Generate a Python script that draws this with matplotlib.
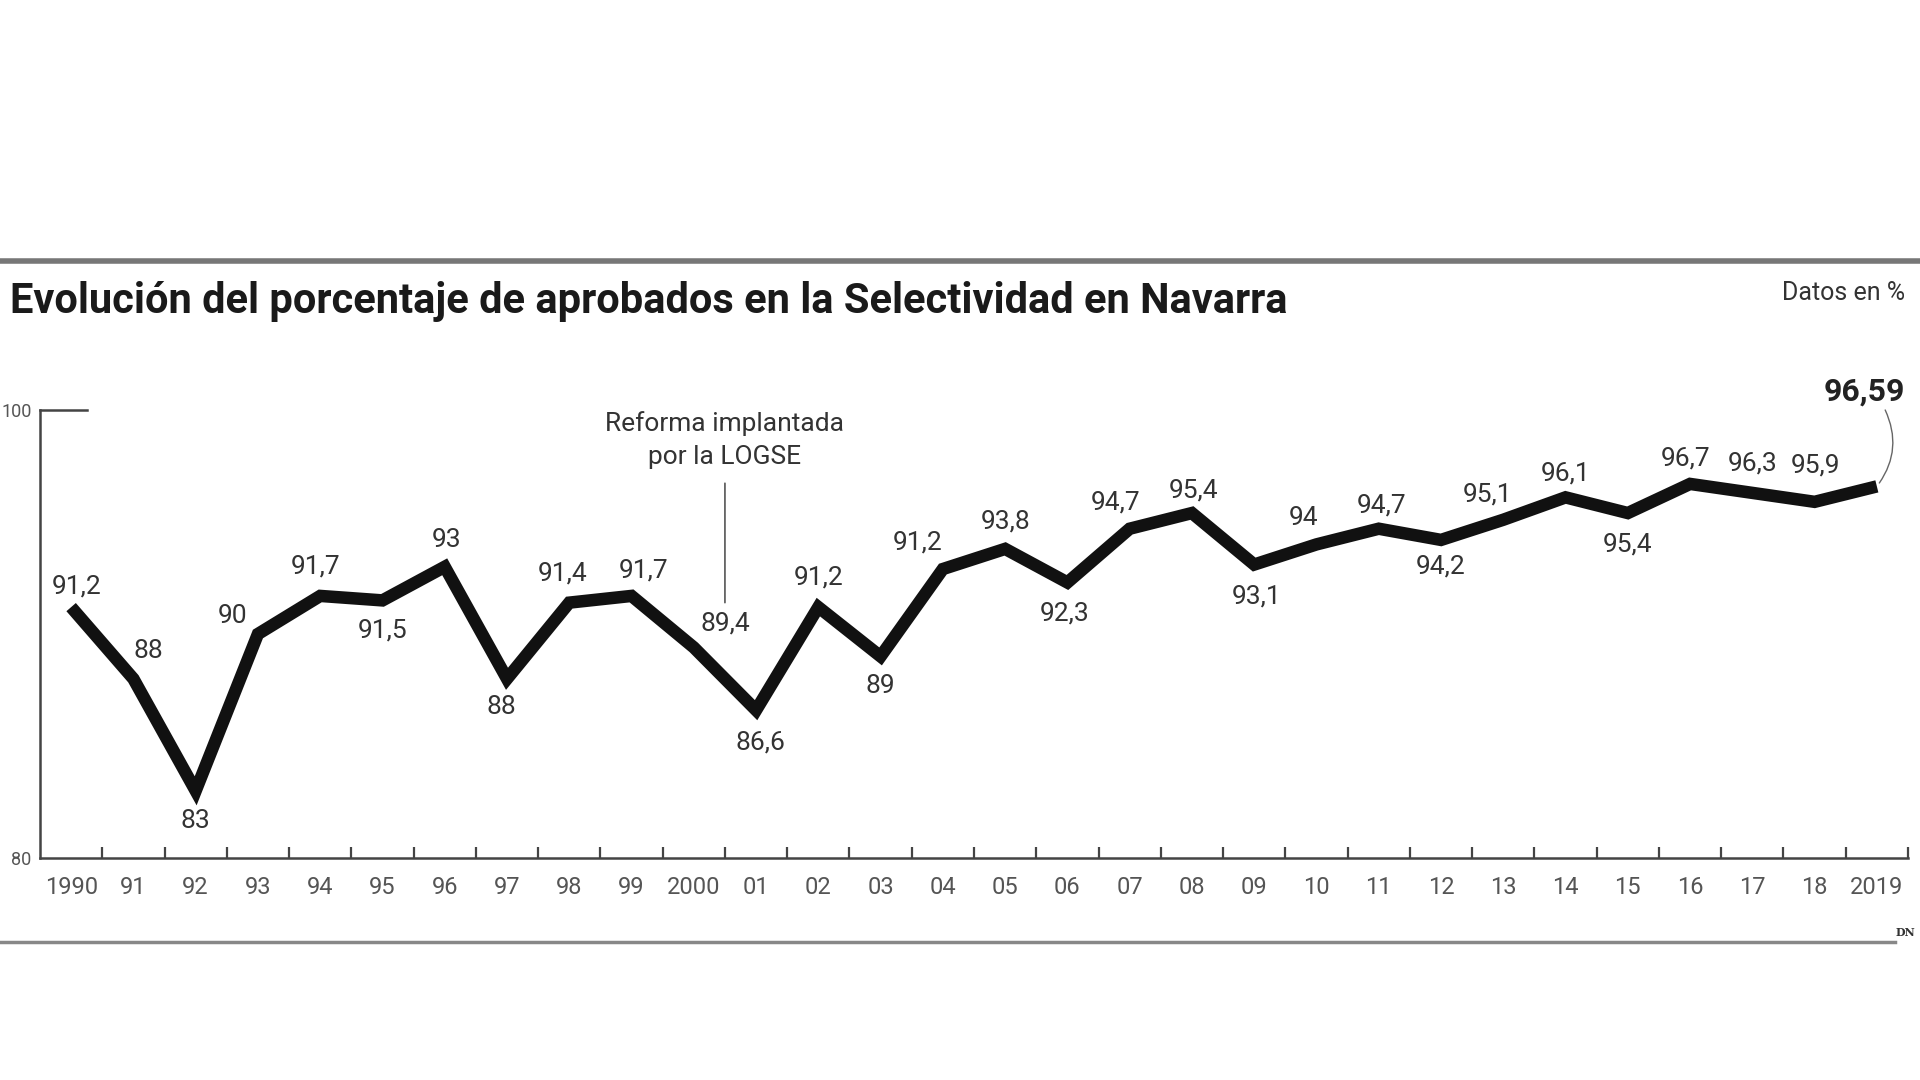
import matplotlib.pyplot as plt
from matplotlib.lines import Line2D
from matplotlib import font_manager

YEARS = ['1990', '91', '92', '93', '94', '95', '96', '97', '98', '99', '2000',
         '01', '02', '03', '04', '05', '06', '07', '08', '09', '10', '11', '12',
         '13', '14', '15', '16', '17', '18', '2019']
# line as drawn in the picture (2004 is plotted near 92.9 although labelled 91,2)
VALUES = [91.2, 88, 83, 90, 91.7, 91.5, 93, 88, 91.4, 91.7, 89.4,
          86.6, 91.2, 89, 92.9, 93.8, 92.3, 94.7, 95.4, 93.1, 94, 94.7, 94.2,
          95.1, 96.1, 95.4, 96.7, 96.3, 95.9, 96.59]
LABELS = ['91,2', '88', '83', '90', '91,7', '91,5', '93', '88', '91,4', '91,7', '89,4',
          '86,6', '91,2', '89', '91,2', '93,8', '92,3', '94,7', '95,4', '93,1', '94',
          '94,7', '94,2', '95,1', '96,1', '95,4', '96,7', '96,3', '95,9', '96,59']

# label offsets (dx, dy) in points
OFFSETS = [(4, 15), (11, 20), (0, -22), (-18, 13), (-3, 21), (0, -22), (1, 19),
           (-4, -20), (-5, 21), (9, 18), (23, 17), (3, -23), (0, 21), (0, -21),
           (-18, 19), (0, 20), (-2, -22), (-10, 19), (1, 16), (2, -23), (-9, 19),
           (2, 17), (0, -19), (-11, 18), (0, 17), (0, -23), (-3, 18), (0, 21),
           (1, 26)]

installed = {f.name for f in font_manager.fontManager.ttflist}
NARROW = 'Liberation Sans Narrow' if 'Liberation Sans Narrow' in installed else 'Roboto'
plt.rcParams['font.family'] = [NARROW, 'DejaVu Sans']


def main():
    fig = plt.figure(figsize=(19.2, 10.8), dpi=100)
    ax = fig.add_axes([40 / 1920, 1 - 858 / 1080, 1868 / 1920, 448 / 1080])

    x = list(range(len(VALUES)))
    ax.plot(x, VALUES, color='#111111', lw=9, solid_joinstyle='miter',
            solid_capstyle='butt', zorder=3)

    ax.set_xlim(-0.5, len(VALUES) - 0.5)
    ax.set_ylim(80, 100)

    for s in ['top', 'right']:
        ax.spines[s].set_visible(False)
    for s in ['left', 'bottom']:
        ax.spines[s].set_color('#444444')
        ax.spines[s].set_linewidth(1.8)
    ax.axhline(100, xmin=0, xmax=0.025, color='#444444', lw=1.8, clip_on=False)

    ax.set_xticks(x)
    ax.set_xticklabels(YEARS)
    ax.set_xticks([i + 0.5 for i in x], minor=True)
    ax.tick_params(axis='x', which='major', length=0, pad=13, labelsize=17,
                   labelcolor='#555555')
    ax.tick_params(axis='x', which='minor', direction='in', length=8, width=1.6,
                   color='#444444')
    ax.set_yticks([80, 100])
    ax.tick_params(axis='y', length=0, pad=6, labelsize=13, labelcolor='#555555')

    for i in range(len(VALUES) - 1):
        ax.annotate(LABELS[i], (i, VALUES[i]), xytext=OFFSETS[i],
                    textcoords='offset points', ha='center', va='center',
                    fontsize=19, color='#333333')

    # last value, bold, with a curved connector
    ax.annotate(LABELS[-1], (x[-1], VALUES[-1]), xytext=(-9, 68),
                textcoords='offset points', ha='center', va='center',
                fontsize=23, fontweight='bold', color='#222222')
    ax.annotate('', (x[-1], VALUES[-1]), xytext=(6, 55),
                textcoords='offset points',
                arrowprops=dict(arrowstyle='-', color='#666666', lw=1,
                                connectionstyle='arc3,rad=-0.3',
                                shrinkA=0, shrinkB=3))

    # LOGSE note
    ax.annotate('Reforma implantada\npor la LOGSE', xy=(10.5, 91.4),
                xytext=(10.5, 97.35), ha='center', va='bottom', fontsize=19,
                color='#333333', linespacing=1.5,
                arrowprops=dict(arrowstyle='-', color='#555555', lw=1.2,
                                shrinkA=8, shrinkB=0))

    # frame decorations
    fig.add_artist(Line2D([0, 1], [1 - 261 / 1080] * 2, color='#777777', lw=4))
    fig.add_artist(Line2D([0, 1895 / 1920], [1 - 942 / 1080] * 2, color='#888888', lw=2.5))
    fig.text(10 / 1920, 1 - 302 / 1080,
             'Evolución del porcentaje de aprobados en la Selectividad en Navarra',
             fontsize=30, fontweight='bold', color='#1a1a1a', va='center', ha='left')
    fig.text(1905 / 1920, 1 - 293 / 1080, 'Datos en %', fontsize=18,
             color='#333333', ha='right', va='center')
    fig.text(1905 / 1920, 1 - 933 / 1080, 'DN', fontsize=8, fontweight='bold',
             family='DejaVu Serif', color='#333333', ha='center', va='center')

    fig.savefig('out.png', dpi=100, facecolor='white')


if __name__ == '__main__':
    main()
